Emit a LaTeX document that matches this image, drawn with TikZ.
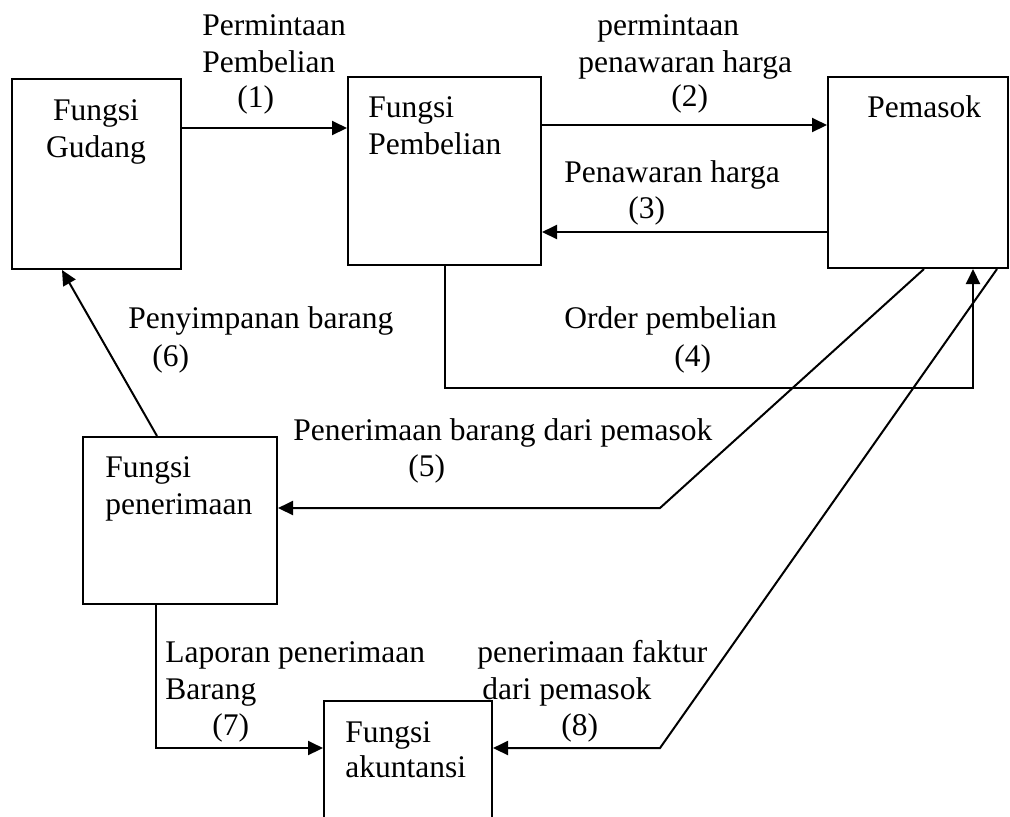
\documentclass[tikz,border=0pt]{standalone}
\usepackage{fontspec}
\setmainfont{Liberation Serif}
\usetikzlibrary{arrows.meta}

\begin{document}
\begin{tikzpicture}[x=0.5pt, y=-0.5pt, font=\fontsize{15.75}{18.5}\selectfont,
		box/.style={draw, line width=1pt, rectangle, inner sep=0pt},
		lbl/.style={anchor=base west, inner sep=0pt},
		arr/.style={-{Triangle[length=7.5pt,width=7pt]}, line width=1pt}]
				\useasboundingbox (0,0) rectangle (1010,816);
				% boxes
				\node[box, minimum width=84.5pt, minimum height=95pt] (gudang) at (96.5,174) {};
				\node[box, minimum width=96.5pt, minimum height=94pt] (pembelian) at (444.5,171) {};
				\node[box, minimum width=90pt, minimum height=95.5pt] (pemasok) at (918,172.5) {};
				\node[box, minimum width=97pt, minimum height=83.5pt] (penerimaan) at (180,520.5) {};
				\node[box, minimum width=84pt, minimum height=64.5pt] (akuntansi) at (408,765.5) {};
				% box texts
				\node[anchor=base, inner sep=0pt] (tgud1) at (96,120) {Fungsi};
				\node[anchor=base, inner sep=0pt] (tgud2) at (96,157) {Gudang};
				\node[lbl] (tpem1) at (368,117) {Fungsi};
				\node[lbl] (tpem2) at (368,154) {Pembelian};
				\node[lbl] (tpas) at (867,117) {Pemasok};
				\node[lbl] (tter1) at (105,477) {Fungsi};
				\node[lbl] (tter2) at (105,514) {penerimaan};
				\node[lbl] (takun1) at (345,742) {Fungsi};
				\node[lbl] (takun2) at (345,777) {akuntansi};
				% flow labels
				\node[lbl] (l1a) at (202,35) {Permintaan};
				\node[lbl] (l1b) at (202,72) {Pembelian};
				\node[lbl] (l1c) at (237,107) {(1)};
				\node[lbl] (l2a) at (597,35) {permintaan};
				\node[lbl] (l2b) at (578,72) {penawaran harga};
				\node[lbl] (l2c) at (671,106) {(2)};
				\node[lbl] (l3a) at (564,182) {Penawaran harga};
				\node[lbl] (l3b) at (628,218) {(3)};
				\node[lbl] (l4a) at (564,328) {Order pembelian};
				\node[lbl] (l4b) at (674,366) {(4)};
				\node[lbl] (l5a) at (293,440) {Penerimaan barang dari pemasok};
				\node[lbl] (l5b) at (408,476) {(5)};
				\node[lbl] (l6a) at (128,328) {Penyimpanan barang};
				\node[lbl] (l6b) at (152,366) {(6)};
				\node[lbl] (l7a) at (165,662) {Laporan penerimaan};
				\node[lbl] (l7b) at (165,699) {Barang};
				\node[lbl] (l7c) at (212,735) {(7)};
				\node[lbl] (l8a) at (477,662) {penerimaan faktur};
				\node[lbl] (l8b) at (482,699) {dari pemasok};
				\node[lbl] (l8c) at (561,735) {(8)};
				% bends
				\coordinate (c4) at (973,388);
				\coordinate (c5) at (660,508);
				\coordinate (c7) at (156,748);
				\coordinate (c8) at (660,748);
				% flows
				\draw[arr] (gudang.east |- 0,128) -- (pembelian.west |- 0,128);
				\draw[arr] (pembelian.east |- 0,125) -- (pemasok.west |- 0,125);
				\draw[arr] (pemasok.west |- 0,232) -- (pembelian.east |- 0,232);
				\draw[arr] (pembelian.south) |- (c4) -- (c4 |- pemasok.south);
				\draw[arr] (pemasok.south -| 924,0) -- (c5) -- (c5 -| penerimaan.east);
				\draw[arr] (penerimaan.north -| 157,0) -- (gudang.south -| 62,0);
				\draw[arr] (penerimaan.south -| c7) -- (c7) -- (c7 -| akuntansi.west);
				\draw[arr] (pemasok.south -| 997,0) -- (c8) -- (c8 -| akuntansi.east);
			\end{tikzpicture}
\end{document}
